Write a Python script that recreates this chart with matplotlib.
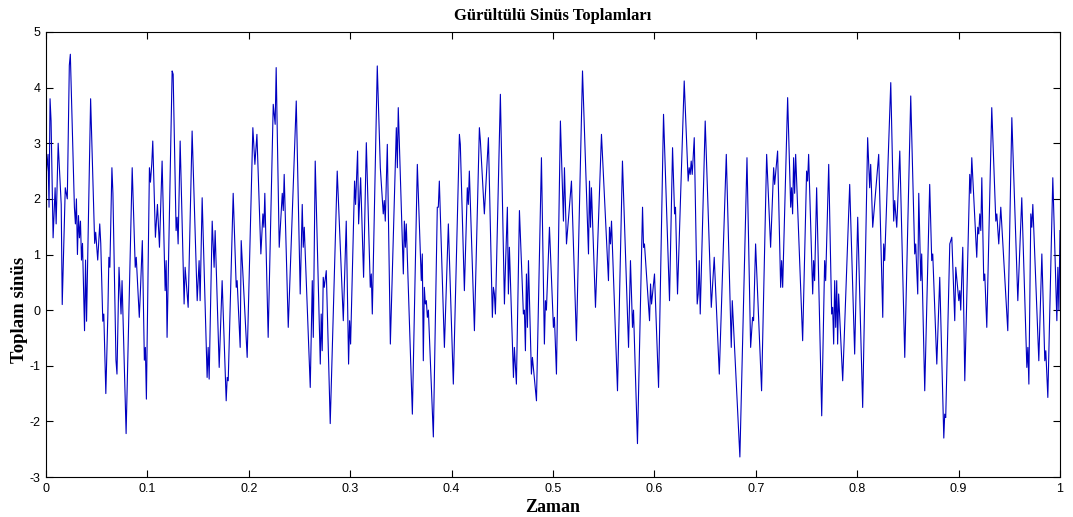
import matplotlib
matplotlib.use("Agg")
import matplotlib.pyplot as plt
import numpy as np

plt.rcParams["axes.unicode_minus"] = False

title_text = "Gürültülü Sinüs Toplamları"
xlabel_text = "Zaman"
ylabel_text = "Toplam sinüs"

x_ticks = [0, 0.1, 0.2, 0.3, 0.4, 0.5, 0.6, 0.7, 0.8, 0.9, 1]
x_tick_labels = ["0", "0.1", "0.2", "0.3", "0.4", "0.5", "0.6", "0.7", "0.8", "0.9", "1"]
y_ticks = [-3, -2, -1, 0, 1, 2, 3, 4, 5]

# time in milliseconds and signal value at turning points
time_ms = [
    0, 2, 3, 4, 5, 7, 9, 10, 12, 15, 16, 19, 21, 23, 24, 28, 29, 30, 31, 32, 33, 34, 35, 36, 38, 39, 40,
    44, 48, 49, 51, 53, 54, 56, 57, 59, 61, 62, 63, 65, 66, 69, 70, 72, 74, 75, 79, 85, 88, 89, 92, 93,
    95, 97, 98, 99,
    102, 103, 104.3, 105.3, 107.9, 109.9, 111.9, 114.5, 117.5, 118.5, 119.4, 124.4, 125.4, 128.3, 129.3,
    130.3, 132.3, 136.2, 137.2, 140.2, 144.1, 149.1, 151, 152, 154, 158.9, 159.9, 160.9, 163.9, 165.8,
    166.8, 170.8, 173.7, 177.7, 178.7, 179.7, 184.6, 187.6, 188.5, 191.5, 192.5, 198.4,
    204, 206, 208, 211.9, 213.9, 214.9, 215.8, 219.1, 224.1, 225.1, 226, 227, 230, 233, 234, 234.9,
    238.9, 246.8, 250.7, 252.7, 253.7, 254.7, 260.6, 262.6, 263.6, 265.5, 270.5, 271.4, 272.4, 273.4,
    274.4, 276.4, 280.3, 287.2, 293.2, 296.1, 298.4, 299.4, 300.4,
    304.3, 305.3, 307.3, 308.3, 310.3, 313.2, 315.9, 319.8, 320.8, 321.8, 326.7, 329.7, 332.6, 333.6,
    334.6, 336.6, 339.6, 345.5, 346.5, 347.4, 352.4, 353.4, 354.4, 355.3, 361.3, 366.2, 370.1, 371.1,
    372.1, 373.1, 374.1, 375.1, 376.1, 377.1, 382, 385.9, 386.9, 387.9, 392.9, 396.8,
    401.7, 407.7, 408.6, 412.6, 415.5, 416.5, 417.5, 422.5, 427.4, 428.4, 432.3, 436.3, 440.2, 441.2,
    442.2, 443.2, 448.1, 452.1, 453.1, 455, 456, 457, 461, 461.9, 463.9, 466.9, 470.8, 471.8, 472.8,
    473.8, 474.8, 475.8, 478.7, 479.7, 483.7, 488.6, 491.5, 492.5, 493.5, 496.5,
    500.4, 501.4, 503.4, 507.3, 510.3, 511.3, 513.3, 518.2, 523.1, 529.1, 535, 536, 537, 537.9, 541.9,
    547.8, 554.7, 555.7, 556.7, 557.7, 563.6, 568.5, 574.5, 576.4, 578.4, 579.4, 583.3, 588.3, 589.3,
    590.2, 595.2,
    596.2, 597.2, 600.1, 604.1, 609, 614.9, 617.9, 619.9, 620.8, 622.8, 629.4, 633.3, 634.3, 635.3,
    636.3, 637.3, 639.3, 642.2, 643.2, 644.2, 645.2, 650.1, 656.1, 659, 664, 670.9, 675.8, 676.8,
    684.3, 691.3,
    694.9, 696.8, 697.8, 699.8, 705.7, 710.7, 714.6, 717.6, 718.6, 721.5, 724.5, 725.5, 726.5, 731.4,
    734.4, 735.3, 736.3, 737.3, 738.3, 739.3, 746.2, 750.1, 751.1, 752.1, 756.1, 757, 758, 760, 765,
    767.9, 768.9, 771.9, 774.8, 775.8, 776.8, 777.8, 778.8, 779.8, 780.7, 781.7, 785.7, 792.6,
    797.5, 800.5, 805.4, 810.3, 812.3, 813.3, 815.3, 821.2, 825.2, 826.1, 827.1, 833.1, 836, 837, 839,
    842, 846.9, 852.8, 856.7, 857.7, 859.7, 860.7, 862.7, 863.6, 866.6, 871.5, 873.5, 874.5, 878.5,
    881.4, 885.4, 886.3, 887.3, 891.3,
    893.3, 896.2, 897.2, 900.2, 901.2, 902.1, 904.1, 906.1, 911, 912, 913, 917.9, 918.9, 919.9, 920.9,
    921.9, 922.9, 924.8, 925.8, 927.8, 932.7, 936.7, 937.7, 939.6, 941.6, 948.5, 952.5, 958.4, 962.3,
    967.3, 968.3, 969.3, 971.2, 972.2, 973.2, 979.1, 982.1, 985, 986, 988, 992.9, 996.9, 997.9, 998.9,
    1000,
]
signal = [
    2.4, 2.8, 1.85, 3.8, 3.4, 1.3, 2.2, 1.55, 3.0, 1.9, 0.1, 2.2, 2.0, 4.4, 4.6, 1.85, 1.55, 2.0, 1.0, 1.7, 1.3, 1.6, 0.9, 1.2, -0.37, 0.9, -0.2,
    3.8, 1.2, 1.4, 0.9, 1.55, 1.2, -0.2, -0.07, -1.5, -0.07, 0.95, 0.77, 2.56, 2.1, -0.9, -1.15, 0.77, -0.07, 0.53, -2.22, 2.56, 0.77, 0.95, -0.13, 0.29,
    1.25, -0.9, -0.67, -1.6,
    2.56, 2.3, 2.63, 3.04, 1.31, 1.9, 1.13, 2.68, 0.35, 0.89, -0.49, 4.3, 4.24, 1.43, 1.67,
    1.19, 3.04, 0.11, 0.77, 0.05, 3.22, 0.17, 0.89, 0.17, 2.02, -1.21, -0.67, -1.24, 1.6, 0.77,
    1.43, -1.03, 0.53, -1.63, -1.21, -1.27, 2.1, 0.41, 0.53, -0.67, 1.25, -0.85,
    3.28, 2.62, 3.16, 1.01, 1.73, 1.49, 2.1, -0.49, 3.7, 3.52, 3.34, 4.36, 1.13, 2.1, 1.79, 2.44,
    -0.31, 3.76, 0.29, 1.9, 1.13, 1.49, -1.39, 0.53, -0.49, 2.68, -0.97, -0.07, -0.73, 0.59,
    0.41, 0.71, -2.04, 2.5, -0.19, 1.6, -0.97, -0.19, -0.61,
    2.32, 1.9, 2.86, 1.55, 2.38, 0.59, 3.01, 0.41, 0.65, -0.07, 4.39, 2.56, 1.73, 1.97,
    1.6, 2.98, -0.61, 3.28, 2.56, 3.64, 0.65, 1.6, 1.13, 1.55, -1.87, 2.62, 0.53, 1.01,
    -0.91, 0.41, 0.11, 0.17, -0.13, 0.0, -2.28, 1.85, 1.85, 2.32, -0.67, 1.55,
    -1.33, 3.16, 2.98, 0.35, 2.2, 1.9, 2.5, -0.37, 3.28, 3.04, 1.73, 3.1, -0.13, 0.41,
    0.29, -0.07, 3.88, 0.11, 0.77, 1.85, 0.29, 1.13, -1.21, -0.67, -1.33, 1.79, -0.07, 0.0, -0.73,
    0.65, -0.31, 0.89, -1.15, -0.85, -1.63, 2.74, -0.61, 0.17, 0.0, 1.49,
    -0.31, -0.13, -1.15, 3.4, 1.6, 2.56, 1.19, 2.32, -0.55, 4.3, 1.01, 2.32, 1.49, 2.2, 0.05,
    3.16, 0.53, 1.49, 1.19, 1.6, -1.45, 2.68, -0.67, 0.89, -0.31, 0.0, -2.4, 1.85, 1.13,
    1.19, -0.19,
    0.47, 0.11, 0.65, -1.39, 3.52, 0.17, 2.92, 1.73, 1.85, 0.29, 4.12, 2.32, 2.56, 2.44,
    2.68, 2.44, 3.1, 0.11, 0.29, 0.89, -0.07, 3.4, 0.05, 0.95, -1.15, 2.8, -0.67, 0.17,
    -2.64, 2.74,
    -0.67, -0.13, -0.19, 1.19, -1.45, 2.8, 1.13, 2.56, 2.26, 2.86, 0.41, 0.89, 0.41, 3.82,
    1.85, 2.2, 1.73, 2.74, 2.1, 2.8, -0.55, 2.5, 2.32, 2.8, 0.29, 0.89, 0.53, 2.2, -1.9,
    0.89, 0.53, 2.62, -0.07, 0.05, -0.61, 0.53, -0.31, 0.53, -0.61, 0.29, -1.27, 2.26,
    -0.79, 1.67, -1.75, 3.1, 2.2, 2.62, 1.49, 2.8, -0.13, 1.19, 0.89, 4.09, 1.6, 1.97, 1.49,
    2.86, -0.85, 3.85, 1.01, 1.19, 0.29, 2.1, 0.53, 1.01, -1.45, 2.26, 0.89, 1.01, -0.97,
    0.59, -2.3, -1.87, -1.93, 1.19,
    1.31, -0.19, 0.77, 0.17, 0.35, 0.0, 1.13, -1.27, 2.44, 2.1, 2.74, 0.95, 1.49, 1.37, 1.73,
    1.43, 2.38, 0.53, 0.65, -0.31, 3.64, 1.6, 1.73, 1.19, 1.85, -0.37, 3.46, 0.17, 2.02,
    -1.03, -0.67, -1.33, 1.73, 1.49, 1.9, -0.91, 1.01, -0.91, -0.73, -1.57, 2.38, -0.19, 0.77, 0.0,
    1.43,
]

t = np.asarray(time_ms) / 1000.0
y = np.asarray(signal)

W, H = 1073, 517
fig = plt.figure(figsize=(W / 100, H / 100), dpi=100, facecolor="white")
ax = fig.add_axes([46 / W, 1 - 477 / H, (1060 - 46) / W, (477 - 32) / H])
ax.plot(t, y, color="#0000c0", linewidth=0.8)

ax.set_xlim(0, 1)
ax.set_ylim(-3, 5)
ax.set_xticks(x_ticks)
ax.set_xticklabels(x_tick_labels)
ax.set_yticks(y_ticks)
ax.tick_params(direction="in", length=5, width=0.8, top=True, right=True,
               labelsize=9, pad=4, colors="black")
for lab in ax.get_xticklabels() + ax.get_yticklabels():
    lab.set_family("Liberation Sans")
for s in ax.spines.values():
    s.set_linewidth(0.8)

ax.set_title(title_text, fontfamily="Liberation Serif", fontweight="bold", fontsize=12, pad=9)
ax.set_xlabel(xlabel_text, fontfamily="Liberation Serif", fontweight="bold", fontsize=13)
ax.set_ylabel(ylabel_text, fontfamily="Liberation Serif", fontweight="bold", fontsize=13.5)
ax.xaxis.set_label_coords(0.5, -0.05)
ax.yaxis.set_label_coords(-0.018, 0.375)

fig.savefig("out.png", dpi=100, facecolor="white")
